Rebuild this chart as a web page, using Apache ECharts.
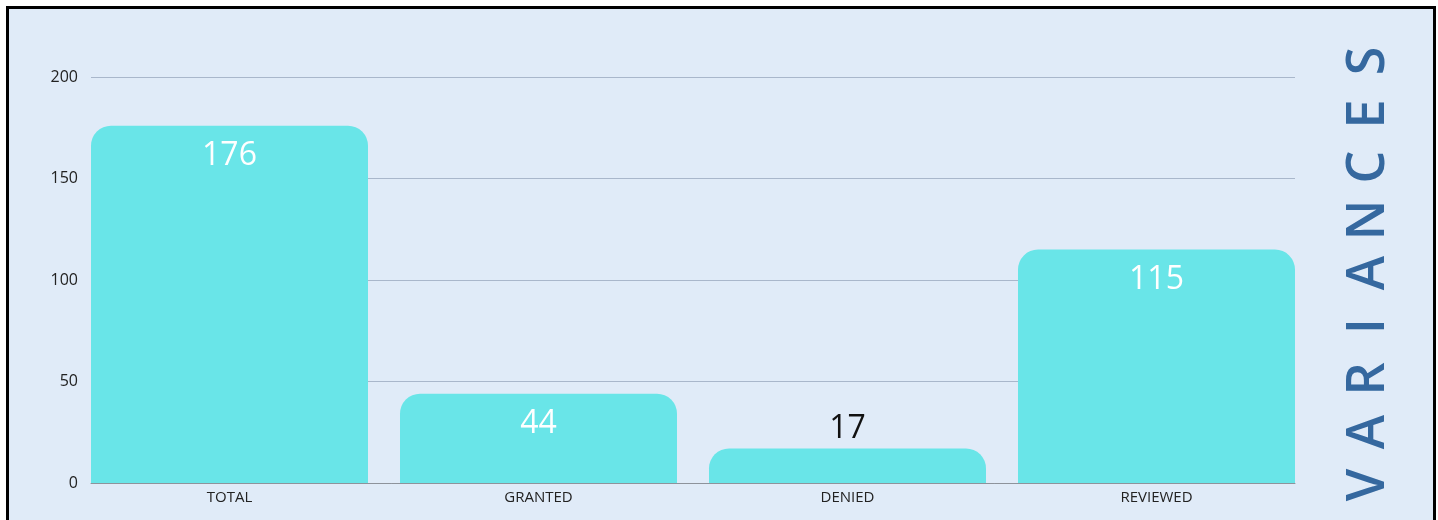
<!DOCTYPE html>
<html>
<head>
<meta charset="utf-8">
<script src="https://cdn.jsdelivr.net/npm/echarts@6/dist/echarts.min.js"></script>
<style>
  html, body { margin: 0; padding: 0; background: #ffffff; overflow: hidden; }
  #frame {
    position: absolute; left: 6px; top: 6px;
    width: 1424px; height: 520px;
    border: 3px solid #000; border-bottom: none;
    background: #e0ebf8;
  }
  #chart { width: 1424px; height: 511px; }
</style>
</head>
<body>
<div id="frame"><div id="chart"></div></div>
<script>
const categories = ['TOTAL', 'GRANTED', 'DENIED', 'REVIEWED'];
const values = [176, 44, 17, 115];
const yTicks = { min: 0, max: 200, interval: 50 };
const titleText = 'VARIANCES';

const chart = echarts.init(document.getElementById('chart'));

// small bars get their number above the bar in black
const barData = values.map((v) => ({
  value: v,
  label: v < 30
    ? { position: 'top', color: '#111', distance: 4 }
    : { position: 'insideTop', color: '#fff', distance: 14 },
}));

// vertical title, spaced letter by letter, read bottom to top
const letterPitch = 53;
const titleLetters = titleText.split('').map((ch, i) => ({
  type: 'text',
  x: 1360,
  y: 476 - i * letterPitch,
  rotation: Math.PI / 2,
  style: {
    text: ch, fill: '#35689f',
    font: '600 52px "Open Sans"',
    textAlign: 'center', textVerticalAlign: 'middle',
  },
}));

const option = {
  animation: false,
  grid: [
    { left: 82, top: 68, width: 1204, height: 406 },
    { left: 66, top: 68, width: 1236, height: 406 },
  ],
  xAxis: [
    {
      gridIndex: 0, type: 'category', data: categories,
      axisLine: { show: true, lineStyle: { color: '#8e939b', width: 1 } },
      axisTick: { show: false }, axisLabel: { show: false },
    },
    {
      gridIndex: 1, type: 'category', data: categories,
      axisLine: { show: false }, axisTick: { show: false },
      axisLabel: { color: '#222', fontSize: 15, fontFamily: 'Open Sans', margin: 7 },
    },
  ],
  yAxis: [
    {
      gridIndex: 0, type: 'value', ...yTicks,
      axisLine: { show: false }, axisTick: { show: false },
      axisLabel: { color: '#222', fontSize: 16, fontFamily: 'Open Sans', margin: 13 },
      splitLine: { lineStyle: { color: '#a9b7cb', width: 1 } },
    },
    {
      gridIndex: 1, type: 'value', ...yTicks,
      show: false, splitLine: { show: false },
    },
  ],
  series: [
    {
      type: 'bar', xAxisIndex: 1, yAxisIndex: 1,
      data: barData, barWidth: 277, z: 3,
      itemStyle: { color: '#69e5e8', borderRadius: [20, 20, 0, 0] },
      label: { show: true, fontSize: 32, fontFamily: 'Open Sans' },
    },
  ],
  graphic: titleLetters,
};

chart.setOption(option);
</script>
</body>
</html>
